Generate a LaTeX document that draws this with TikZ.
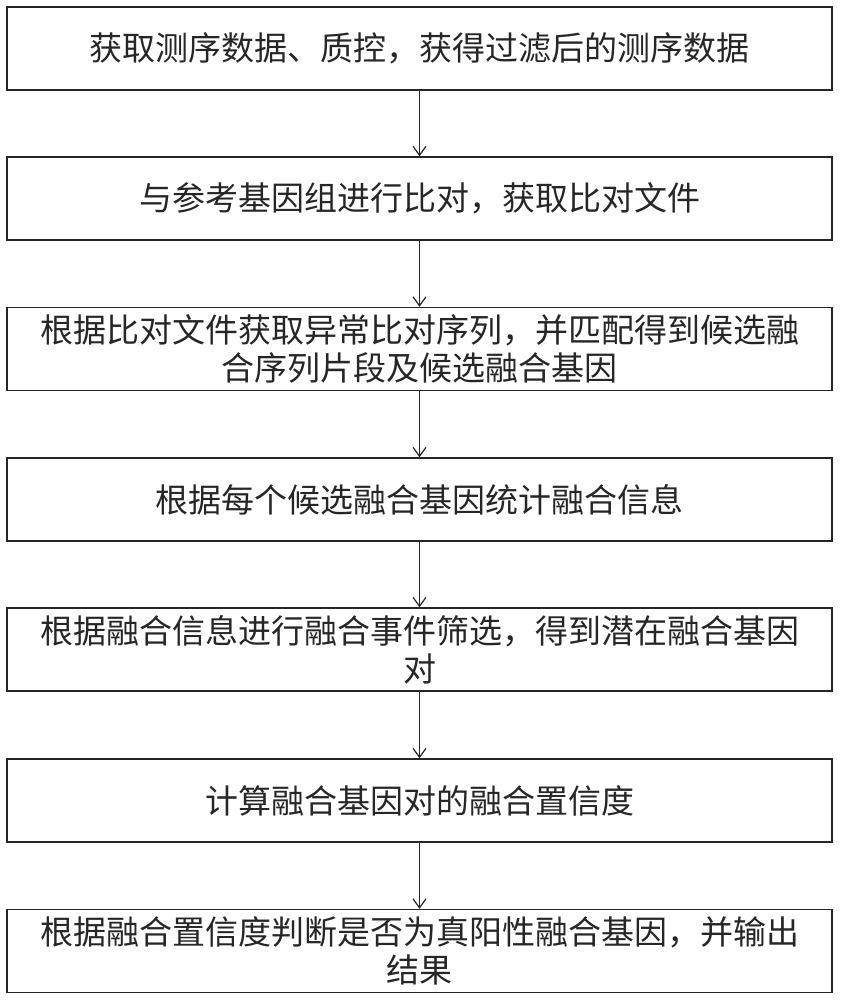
\documentclass[tikz,border=0pt]{standalone}
\usepackage{fontspec}
\setmainfont{Noto Sans CJK SC}
\usetikzlibrary{arrows.meta}

\tikzset{
  procbox/.style={draw=black!85,line width=1.4pt,minimum width=825pt,minimum height=83pt,
    inner sep=0pt,align=center,text=black!85,font=\fontsize{33}{38}\selectfont},
  >={Straight Barb[length=9pt,width=13pt,line width=1.2pt]}
}

\begin{document}
\begin{tikzpicture}[x=1pt,y=1pt]
      \useasboundingbox (0,0) rectangle (840,-1000);

      \node[procbox] (a) at (419.5,-48.5){获取测序数据、质控，获得过滤后的测序数据};
      \node[procbox] (b) at (419.5,-198.5){与参考基因组进行比对，获取比对文件};
      \node[procbox] (c) at (419.5,-349){根据比对文件获取异常比对序列，并匹配得到候选融\\合序列片段及候选融合基因};
      \node[procbox] (d) at (419.5,-499.5){根据每个候选融合基因统计融合信息};
      \node[procbox] (e) at (419.5,-649.5){根据融合信息进行融合事件筛选，得到潜在融合基因\\对};
      \node[procbox] (f) at (419.5,-800.5){计算融合基因对的融合置信度};
      \node[procbox] (g) at (419.5,-951){根据融合置信度判断是否为真阳性融合基因，并输出\\结果};

      \draw[->,line width=1.2pt,black!85] (a) -- (b);
      \draw[->,line width=1.2pt,black!85] (b) -- (c);
      \draw[->,line width=1.2pt,black!85] (c) -- (d);
      \draw[->,line width=1.2pt,black!85] (d) -- (e);
      \draw[->,line width=1.2pt,black!85] (e) -- (f);
      \draw[->,line width=1.2pt,black!85] (f) -- (g);
\end{tikzpicture}
\end{document}
